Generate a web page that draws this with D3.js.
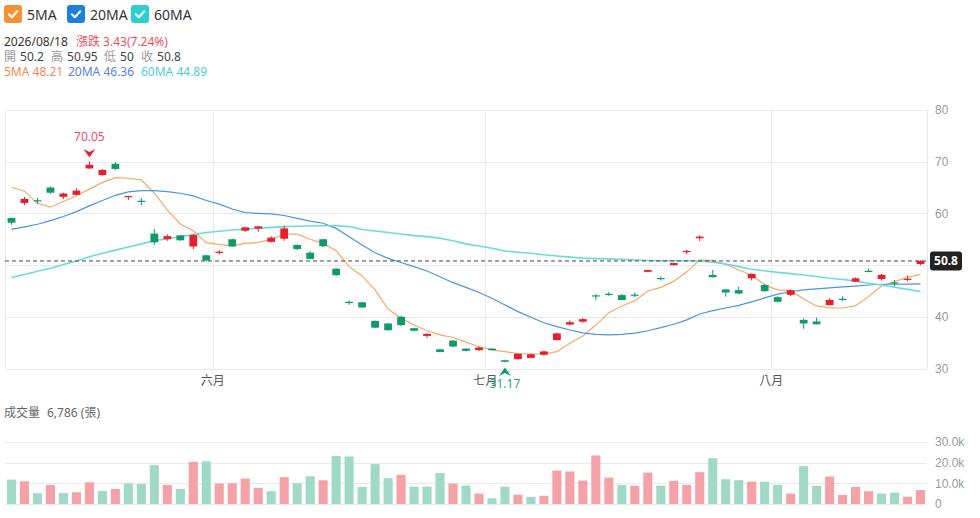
<!DOCTYPE html>
<html>
<head>
<meta charset="utf-8">
<script src="https://d3js.org/d3.v7.min.js"></script>
<style>
  body { margin: 0; background: #fff; }
  svg { font-family: "Noto Sans", "Noto Sans CJK TC", sans-serif; }
</style>
</head>
<body>
<svg id="chart" width="980" height="518"></svg>
<script>
// ---- data ----
var lastDate = "2026/08/18";
var prevClose0 = 59.0;

var opens  = [59.1, 62.0, 62.55, 65.0, 63.2, 63.6, 68.7, 67.4, 69.6, 63.2,
              62.45, 56.1, 55.0, 55.75, 53.6, 51.9, 52.35, 55.0, 56.65, 57.05,
              54.5, 55.1, 53.9, 52.4, 55.0, 49.3, 42.9, 42.8, 39.2, 38.7,
              40.0, 37.8, 36.3, 33.7, 35.4, 33.85, 33.55, 33.85, 31.6, 31.8,
              32.05, 32.65, 35.5, 38.5, 39.05, 44.15, 44.45, 44.2, 44.3, 48.7,
              47.5, 50.0, 52.5, 55.2, 48.1, 45.3, 45.15, 47.45, 46.15, 43.8,
              44.25, 39.4, 39.1, 42.25, 43.5, 46.8, 48.9, 47.3, 46.65, 47.2, 50.2];
var highs  = [59.2, 63.2, 63.0, 65.2, 64.0, 64.9, 70.05, 68.55, 69.9, 63.4,
              63.0, 57.0, 55.95, 55.8, 56.0, 52.0, 52.9, 55.1, 57.4, 57.55,
              55.6, 57.6, 54.0, 52.7, 55.1, 49.5, 43.2, 42.85, 39.3, 38.8,
              40.2, 37.9, 36.8, 33.8, 35.55, 33.9, 34.3, 33.95, 31.7, 32.9,
              32.9, 33.5, 36.9, 39.3, 39.75, 44.4, 44.85, 44.4, 44.7, 49.1,
              47.8, 50.5, 53.0, 55.8, 49.05, 45.35, 45.8, 48.4, 46.4, 44.0,
              45.3, 39.7, 39.85, 43.6, 43.95, 47.6, 49.3, 48.3, 47.1, 48.0, 50.95];
var lows   = [57.8, 61.6, 61.8, 63.8, 62.8, 63.5, 68.6, 67.3, 68.4, 62.6,
              61.6, 53.9, 54.7, 54.7, 53.1, 50.7, 52.0, 53.5, 56.45, 56.45,
              54.35, 54.7, 52.9, 51.1, 53.5, 47.9, 42.3, 41.7, 37.8, 37.3,
              38.2, 37.2, 35.9, 33.1, 34.1, 33.3, 33.4, 33.45, 31.17, 31.7,
              31.95, 32.5, 35.4, 38.3, 38.85, 43.2, 44.0, 43.2, 43.8, 48.6,
              47.0, 49.9, 52.1, 54.65, 47.6, 43.9, 44.4, 47.0, 44.85, 42.8,
              44.0, 37.7, 38.5, 42.2, 43.0, 46.7, 48.6, 47.0, 45.9, 46.9, 50.0];
var closes = [58.2, 62.8, 62.45, 64.0, 63.85, 64.4, 69.4, 68.4, 68.6, 63.35,
              62.35, 54.4, 55.6, 54.8, 55.8, 50.9, 52.6, 53.6, 57.3, 57.5,
              55.3, 57.1, 53.1, 51.2, 53.65, 48.05, 42.8, 41.8, 37.9, 37.4,
              38.4, 37.3, 36.7, 33.2, 34.25, 33.4, 34.05, 33.55, 31.3, 32.85,
              32.75, 33.3, 36.8, 38.95, 39.55, 44.0, 44.3, 43.25, 44.1, 49.05,
              47.35, 50.4, 52.75, 55.5, 47.65, 44.7, 44.5, 48.3, 44.95, 42.9,
              45.15, 38.7, 38.55, 43.25, 43.35, 47.45, 48.75, 48.1, 46.5, 47.37, 50.8];
var volumes = [11800, 11000, 5200, 9200, 5300, 5700, 10500, 6300, 7300, 9900,
               9700, 18800, 9200, 7300, 20400, 20700, 9900, 10000, 12300, 7800,
               6200, 13000, 10000, 13400, 11500, 23300, 23000, 8300, 19300, 12500,
               14100, 8400, 8400, 15000, 9900, 8900, 5000, 2800, 8400, 4500,
               3400, 4000, 16200, 15700, 11300, 23500, 12800, 9200, 8900, 15200,
               8900, 11200, 9200, 15400, 22200, 12000, 11500, 10800, 10800, 9200,
               5000, 18300, 8700, 13300, 4400, 8300, 6200, 5000, 5500, 3500, 6786];

var ma5  = [65.05, 64.3, 61.95, 61.2, 62.3, 63.4, 64.7, 66.0, 66.9, 66.8,
            66.5, 63.9, 60.65, 57.95, 56.65, 54.35, 54.0, 53.7, 54.2, 54.4,
            55.0, 56.0, 56.0, 55.0, 54.2, 52.8, 49.7, 47.9, 45.2, 41.5,
            39.7, 38.4, 37.3, 36.5, 36.0, 35.1, 34.2, 33.6, 33.25, 32.9,
            32.8, 32.8, 33.25, 34.9, 36.3, 38.4, 40.8, 42.1, 43.1, 45.0,
            45.7, 46.9, 48.7, 51.0, 50.85, 50.15, 49.05, 48.1, 46.15, 45.2,
            45.05, 43.45, 42.1, 41.7, 41.7, 42.15, 43.9, 45.95, 46.8, 47.65, 48.21];
var ma20 = [56.9, 57.4, 57.9, 58.6, 59.4, 60.35, 61.45, 62.5, 63.5, 64.15,
            64.4, 64.4, 64.2, 63.9, 63.4, 62.5, 61.8, 60.85, 60.15, 60.0,
            59.9, 59.6, 59.05, 58.5, 58.1, 57.1, 55.5, 53.9, 52.4, 51.3,
            50.5, 49.7, 48.85, 47.75, 46.6, 45.7, 44.7, 43.6, 42.3, 41.0,
            39.9, 38.85, 38.1, 37.45, 36.9, 36.6, 36.5, 36.6, 36.85, 37.3,
            37.9, 38.55, 39.4, 40.55, 41.2, 41.7, 42.2, 42.9, 43.65, 44.4,
            44.85, 45.2, 45.4, 45.6, 45.8, 45.95, 46.15, 46.3, 46.3, 46.33, 46.36];
var ma60 = [47.6, 48.2, 48.8, 49.4, 50.1, 50.8, 51.6, 52.3, 52.9, 53.5,
            54.1, 54.7, 55.1, 55.5, 55.9, 56.3, 56.55, 56.8, 56.95, 57.1,
            57.3, 57.45, 57.5, 57.55, 57.6, 57.6, 57.45, 56.9, 56.6, 56.3,
            56.0, 55.7, 55.5, 55.2, 54.7, 54.1, 53.7, 53.25, 52.7, 52.5,
            52.3, 52.0, 51.75, 51.55, 51.35, 51.25, 51.2, 51.1, 51.0, 50.9,
            50.85, 50.85, 50.85, 50.8, 50.55, 50.2, 49.7, 49.2, 48.9, 48.6,
            48.35, 48.1, 47.8, 47.45, 47.2, 46.9, 46.5, 46.15, 45.7, 45.3, 44.89];

var maNames = ["5MA", "20MA", "60MA"];
var maBoxColors = ["#f39234", "#1c7fd9", "#2ccfcf"];
var maLineColors = ["#f7a764", "#4a95e0", "#6fdada"];
var maTextColors = ["#f58a55", "#5b7fe0", "#4ecfd8"];

var monthIdx = [16, 37, 59];
var monthNames = ["六月", "七月", "八月"];
var priceTicks = [30, 40, 50, 60, 70, 80];
var volTicks = [0, 10000, 20000, 30000];

// ---- layout ----
var upColor = "#e5202e", downColor = "#10996b";
var volUp = "#f4a2a7", volDown = "#a0d9c5";
var gridColor = "#e7e8f0";

var svg = d3.select("#chart");
var left = 5, right = 927;
var n = closes.length;

var x = d3.scaleBand().domain(d3.range(n)).range([left, right]);
function cx(i) { return x(i) + x.bandwidth() / 2; }
var y = d3.scaleLinear().domain([30, 80]).range([368.5, 110]);
var yv = d3.scaleLinear().domain([0, 30000]).range([504, 442]);

// ---- header ----
var legend = svg.append("g").selectAll("g")
  .data(maNames).enter().append("g")
  .attr("transform", function(d, i) { return "translate(" + [4, 67, 131][i] + ",5)"; });
legend.append("rect")
  .attr("width", 18).attr("height", 18).attr("rx", 3)
  .attr("fill", function(d, i) { return maBoxColors[i]; });
legend.append("path")
  .attr("d", "M4.8,9.3L7.8,12.3L13.3,6.3")
  .attr("fill", "none").attr("stroke", "#fff").attr("stroke-width", 2)
  .attr("stroke-linecap", "round").attr("stroke-linejoin", "round");
legend.append("text")
  .attr("x", 23).attr("y", 14.5)
  .attr("font-size", 14).attr("fill", "#333")
  .text(function(d) { return d; });

var last = n - 1;
var chg = closes[last] - closes[last - 1];
var pct = chg / closes[last - 1] * 100;

var info = svg.append("g").attr("font-size", 12);
var l1 = info.append("text").attr("x", 4).attr("y", 46);
l1.append("tspan").attr("fill", "#333").text(lastDate);
l1.append("tspan").attr("x", 76).attr("fill", "#e8515e").text("漲跌 " + chg.toFixed(2) + "(" + pct.toFixed(2) + "%)");

var ohlc = [["開", opens[last]], ["高", highs[last]], ["低", lows[last]], ["收", closes[last]]];
var ohlcX = [4, 51, 104, 141];
var l2 = info.append("text").attr("y", 61);
ohlc.forEach(function(d, i) {
  l2.append("tspan").attr("x", ohlcX[i]).attr("fill", "#999").text(d[0]);
  l2.append("tspan").attr("dx", 4).attr("fill", "#444").text(d[1]);
});

var maLast = [ma5[last], ma20[last], ma60[last]];
var l3 = info.append("text").attr("y", 76);
maNames.forEach(function(d, i) {
  l3.append("tspan").attr("x", [4, 68, 141][i]).attr("fill", maTextColors[i])
    .text(d + " " + maLast[i].toFixed(2));
});

// ---- price panel grid ----
var grid = svg.append("g").attr("stroke", gridColor).attr("stroke-width", 1);
grid.selectAll("line.h").data(priceTicks).enter().append("line")
  .attr("x1", left).attr("x2", right)
  .attr("y1", function(d) { return Math.round(y(d)) + 0.5; })
  .attr("y2", function(d) { return Math.round(y(d)) + 0.5; });
grid.selectAll("line.m").data(monthIdx).enter().append("line")
  .attr("x1", function(d) { return Math.round(x(d)) + 0.5; })
  .attr("x2", function(d) { return Math.round(x(d)) + 0.5; })
  .attr("y1", y(80)).attr("y2", y(30));
grid.append("line").attr("x1", left + 0.5).attr("x2", left + 0.5).attr("y1", y(80)).attr("y2", y(30));
grid.append("line").attr("x1", right + 0.5).attr("x2", right + 0.5).attr("y1", y(80)).attr("y2", y(30));

// tick labels hidden under the close-price tag are not drawn
var shownTicks = priceTicks.filter(function(t) { return Math.abs(y(t) - y(closes[last])) > 10; });
svg.append("g")
  .attr("transform", "translate(" + right + ",0)")
  .call(d3.axisRight(y).tickValues(shownTicks).tickSize(0).tickPadding(8))
  .call(function(g) { g.select(".domain").remove(); })
  .call(function(g) { g.selectAll("text").attr("fill", "#9a9a9a").attr("font-size", 12).attr("font-family", null); });

svg.append("g").selectAll("text").data(monthIdx).enter().append("text")
  .attr("x", function(d) { return x(d); }).attr("y", 385)
  .attr("text-anchor", "middle").attr("font-size", 12).attr("fill", "#555")
  .text(function(d, i) { return monthNames[i]; });

// ---- moving averages ----
[ma5, ma20, ma60].forEach(function(arr, k) {
  svg.append("path")
    .datum(arr)
    .attr("fill", "none")
    .attr("stroke", maLineColors[k])
    .attr("stroke-width", k === 2 ? 1.6 : 1.2)
    .attr("d", d3.line().x(function(d, i) { return cx(i); }).y(function(d) { return y(d); }));
});

// ---- candles ----
var bodyW = x.step() * 0.6;
var candle = svg.append("g").selectAll("g")
  .data(d3.range(n)).enter().append("g")
  .attr("fill", function(i) { return closes[i] >= opens[i] ? upColor : downColor; })
  .attr("stroke", function(i) { return closes[i] >= opens[i] ? upColor : downColor; });
candle.append("line")
  .attr("x1", cx).attr("x2", cx)
  .attr("y1", function(i) { return y(highs[i]); })
  .attr("y2", function(i) { return y(lows[i]); })
  .attr("stroke-width", 1);
candle.append("rect")
  .attr("stroke", "none")
  .attr("x", function(i) { return cx(i) - bodyW / 2; })
  .attr("width", bodyW)
  .attr("y", function(i) { return y(Math.max(opens[i], closes[i])); })
  .attr("height", function(i) { return Math.max(1.2, Math.abs(y(opens[i]) - y(closes[i]))); });

// close price line + tag
svg.append("line")
  .attr("x1", left).attr("x2", right)
  .attr("y1", y(closes[last])).attr("y2", y(closes[last]))
  .attr("stroke", "#444").attr("stroke-dasharray", "4,3");
svg.append("rect")
  .attr("x", 930).attr("y", y(closes[last]) - 9.5).attr("width", 32).attr("height", 19)
  .attr("rx", 3).attr("fill", "#222");
svg.append("text")
  .attr("x", 946).attr("y", y(closes[last]) + 4.5).attr("text-anchor", "middle")
  .attr("font-size", 12).attr("font-weight", "bold").attr("fill", "#fff")
  .text(closes[last]);

// highest / lowest markers
var hiI = d3.maxIndex(highs), loI = d3.minIndex(lows);
svg.append("path")
  .attr("transform", "translate(" + cx(hiI) + "," + (y(highs[hiI]) - 8) + ")")
  .attr("d", "M-6,-4.5L0,-1.5L6,-4.5L0,4Z")
  .attr("fill", "#e3232f");
svg.append("text")
  .attr("x", cx(hiI)).attr("y", y(highs[hiI]) - 20)
  .attr("text-anchor", "middle").attr("font-size", 12).attr("fill", "#e8515e")
  .text(highs[hiI].toFixed(2));
svg.append("path")
  .attr("transform", "translate(" + cx(loI) + "," + (y(lows[loI]) + 9) + ")")
  .attr("d", "M-6,4.5L0,1.5L6,4.5L0,-4Z")
  .attr("fill", "#12996c");
svg.append("text")
  .attr("x", cx(loI)).attr("y", y(lows[loI]) + 26)
  .attr("text-anchor", "middle").attr("font-size", 12).attr("fill", "#2aa57a")
  .text(lows[loI].toFixed(2));

// ---- volume panel ----
var vt = svg.append("text").attr("y", 417).attr("font-size", 12).attr("fill", "#666");
vt.append("tspan").attr("x", 4).text("成交量");
vt.append("tspan").attr("x", 47).text(d3.format(",")(volumes[last]) + " (張)");

svg.append("g").attr("stroke", gridColor).selectAll("line").data(volTicks).enter().append("line")
  .attr("x1", left).attr("x2", right)
  .attr("y1", function(d) { return Math.round(yv(d)) + 0.5; })
  .attr("y2", function(d) { return Math.round(yv(d)) + 0.5; });

svg.append("g")
  .attr("transform", "translate(" + right + ",0)")
  .call(d3.axisRight(yv).tickValues(volTicks).tickSize(0).tickPadding(8)
    .tickFormat(function(d) { return d === 0 ? "0" : d3.format(".1f")(d / 1000) + "k"; }))
  .call(function(g) { g.select(".domain").remove(); })
  .call(function(g) { g.selectAll("text").attr("fill", "#9a9a9a").attr("font-size", 12).attr("font-family", null); });

var volW = x.step() * 0.7;
svg.append("g").selectAll("rect").data(volumes).enter().append("rect")
  .attr("x", function(d, i) { return cx(i) - volW / 2; })
  .attr("width", volW)
  .attr("y", function(d) { return yv(d); })
  .attr("height", function(d) { return yv(0) - yv(d); })
  .attr("fill", function(d, i) {
    var prev = i === 0 ? prevClose0 : closes[i - 1];
    return closes[i] >= prev ? volUp : volDown;
  });
</script>
</body>
</html>
